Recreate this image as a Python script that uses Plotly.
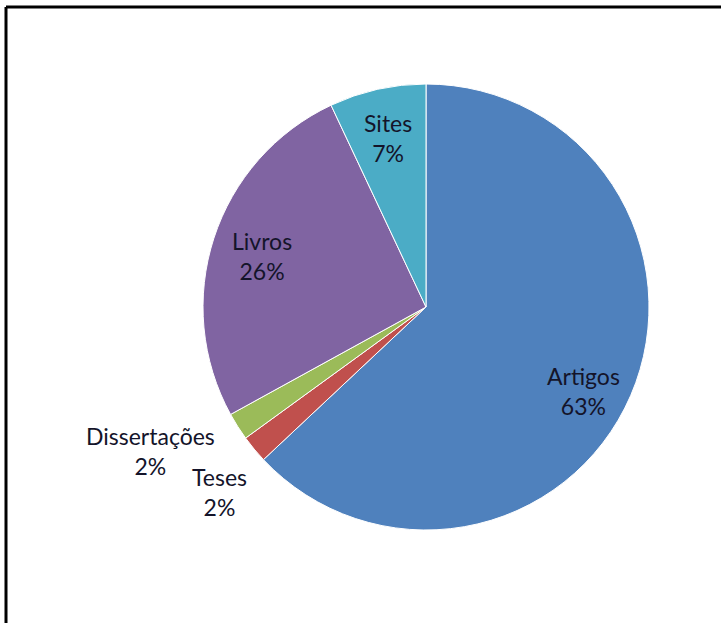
import plotly.graph_objects as go

# Share of reference types
categories = ["Artigos", "Teses", "Dissertações", "Livros", "Sites"]
shares = [63, 2, 2, 26, 7]
colors = ["#4F81BD", "#C0504D", "#9BBB59", "#8064A2", "#4BACC6"]

W, H = 721, 623

# Pie bounding box in pixels
cx, cy, r = 426, 307, 223

# Label block centres in pixels, per category
label_pos = {
    "Artigos": (583, 391),
    "Teses": (220, 492),
    "Dissertações": (150, 451),
    "Livros": (262, 256),
    "Sites": (388, 138),
}

fig = go.Figure(
    go.Pie(
        labels=categories,
        values=shares,
        sort=False,
        direction="clockwise",
        rotation=0,
        textinfo="none",
        hoverinfo="label+percent",
        marker=dict(colors=colors, line=dict(color="#FFFFFF", width=1)),
        domain=dict(
            x=[(cx - r) / W, (cx + r) / W],
            y=[1 - (cy + r) / H, 1 - (cy - r) / H],
        ),
        showlegend=False,
    )
)

for name, val in zip(categories, shares):
    px, py = label_pos[name]
    fig.add_annotation(
        x=px / W,
        y=1 - py / H,
        xref="paper",
        yref="paper",
        text=f"{name}<br>{val}%",
        showarrow=False,
        xanchor="center",
        yanchor="middle",
        align="center",
        font=dict(family="Lato, Open Sans, sans-serif", size=23, color="#14142a"),
    )

# Frame lines along the top and left edges
frame_x = 6 / W
frame_y = 1 - 7 / H
fig.add_shape(type="line", xref="paper", yref="paper",
              x0=frame_x, x1=1.2, y0=frame_y, y1=frame_y,
              line=dict(color="#000000", width=3))
fig.add_shape(type="line", xref="paper", yref="paper",
              x0=frame_x, x1=frame_x, y0=-0.2, y1=frame_y,
              line=dict(color="#000000", width=3))

fig.update_layout(
    width=W,
    height=H,
    margin=dict(l=0, r=0, t=0, b=0),
    paper_bgcolor="#FFFFFF",
    plot_bgcolor="#FFFFFF",
)

fig.write_html("out.html")
